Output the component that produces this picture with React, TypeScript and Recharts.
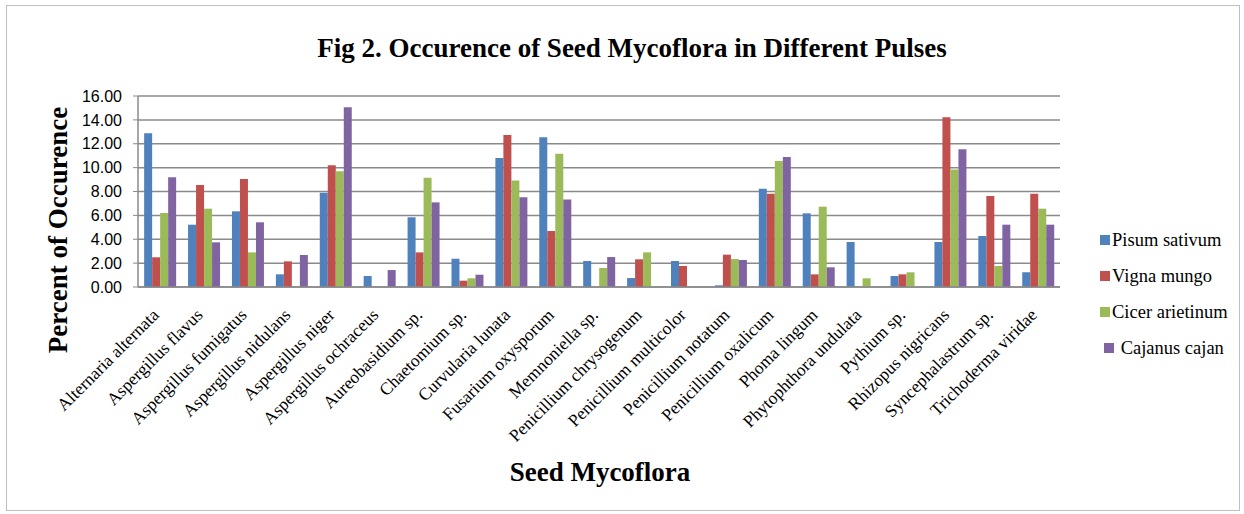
import React from "react";
import { Bar, BarChart, CartesianGrid, XAxis, YAxis } from "recharts";

const categories = [
  "Alternaria alternata",
  "Aspergillus flavus",
  "Aspergillus fumigatus",
  "Aspergillus nidulans",
  "Aspergillus niger",
  "Aspergillus ochraceus",
  "Aureobasidium sp.",
  "Chaetomium sp.",
  "Curvularia lunata",
  "Fusarium oxysporum",
  "Memnoniella sp.",
  "Penicillium chrysogenum",
  "Penicillium multicolor",
  "Penicillium notatum",
  "Penicillium oxalicum",
  "Phoma lingum",
  "Phytophthora undulata",
  "Pythium sp.",
  "Rhizopus nigricans",
  "Syncephalastrum sp.",
  "Trichoderma viridae",
];

const pisumSativum = [12.87, 5.22, 6.34, 1.06, 7.9, 0.92, 5.84, 2.37, 10.8, 12.54, 2.18, 0.75, 2.18, 0.14, 8.23, 6.17, 3.77, 0.92, 3.77, 4.27, 1.23];
const vignaMungo = [2.49, 8.54, 9.05, 2.15, 10.19, 0, 2.9, 0.53, 12.73, 4.69, 0, 2.32, 1.76, 2.71, 7.82, 1.06, 0, 1.06, 14.21, 7.62, 7.82];
const cicerArietinum = [6.2, 6.56, 2.9, 0, 9.69, 0, 9.16, 0.73, 8.93, 11.17, 1.59, 2.9, 0, 2.34, 10.55, 6.73, 0.73, 1.23, 9.85, 1.76, 6.56];
const cajanusCajan = [9.19, 3.74, 5.42, 2.68, 15.05, 1.42, 7.09, 1.03, 7.51, 7.34, 2.51, 0, 0, 2.26, 10.89, 1.65, 0, 0, 11.53, 5.22, 5.22];

const yTicks = [0, 2, 4, 6, 8, 10, 12, 14, 16];

const series = [
  { key: "pisum", name: "Pisum sativum", color: "#4F81BD", values: pisumSativum },
  { key: "vigna", name: "Vigna mungo", color: "#C0504D", values: vignaMungo },
  { key: "cicer", name: "Cicer arietinum", color: "#9BBB59", values: cicerArietinum },
  { key: "cajanus", name: " Cajanus cajan", color: "#8064A2", values: cajanusCajan },
];

const data = categories.map((name, i) => {
  const row: Record<string, string | number> = { name };
  series.forEach((s) => {
    row[s.key] = s.values[i];
  });
  return row;
});

const serif = "Liberation Serif, Times New Roman, serif";
const sans = "Liberation Sans, Arial, sans-serif";

// rotated category labels, Excel style
function CategoryTick({ x, y, payload }: any) {
  return (
    <g transform={`translate(${x},${y + 29})`}>
      <text textAnchor="end" transform="rotate(-45)" fontFamily={serif} fontSize={17.5} fill="#000">
        {payload.value}
      </text>
    </g>
  );
}

export default function App() {
  return (
    <div style={{ position: "absolute", left: 0, top: 0, width: 1244, height: 514, background: "#fff" }}>
      <div
        style={{
          position: "absolute",
          left: 6,
          top: 5,
          width: 1232,
          height: 504,
          border: "1px solid #bfbfbf",
        }}
      />
      <div
        style={{
          position: "absolute",
          left: 0,
          top: 33,
          width: 1264,
          textAlign: "center",
          fontFamily: serif,
          fontWeight: "bold",
          fontSize: 27,
          lineHeight: "30px",
          whiteSpace: "nowrap",
        }}
      >
        Fig 2. Occurence of Seed Mycoflora in Different Pulses
      </div>

      <BarChart
        width={1244}
        height={514}
        data={data}
        margin={{ top: 96, right: 184, bottom: 77, left: 78 }}
        barCategoryGap="14%"
        barGap={0}
        style={{ position: "absolute", left: 0, top: 0 }}
      >
        <CartesianGrid vertical={false} stroke="#8a8a8a" strokeWidth={1.5} />
        <XAxis
          dataKey="name"
          height={150}
          interval={0}
          tick={<CategoryTick />}
          tickSize={0}
          tickMargin={0}
          tickLine={false}
          axisLine={{ stroke: "#8a8a8a", strokeWidth: 1.5 }}
        />
        <YAxis
          width={60}
          domain={[0, 16]}
          ticks={yTicks}
          tickFormatter={(v: number) => v.toFixed(2)}
          tickSize={5}
          tickMargin={11}
          tick={{ fontFamily: sans, fontSize: 16, fill: "#000" }}
          tickLine={{ stroke: "#8a8a8a" }}
          axisLine={{ stroke: "#8a8a8a", strokeWidth: 1.5 }}
        />
        {series.map((s) => (
          <Bar key={s.key} dataKey={s.key} name={s.name} fill={s.color} isAnimationActive={false} />
        ))}
      </BarChart>

      <div
        style={{
          position: "absolute",
          left: 58,
          top: 230,
          transform: "translate(-50%, -50%) rotate(-90deg)",
          whiteSpace: "nowrap",
          fontFamily: serif,
          fontWeight: "bold",
          fontSize: 27,
        }}
      >
        Percent of Occurence
      </div>

      <div
        style={{
          position: "absolute",
          left: 600,
          top: 472,
          transform: "translate(-50%, -50%)",
          whiteSpace: "nowrap",
          fontFamily: serif,
          fontWeight: "bold",
          fontSize: 27,
        }}
      >
        Seed Mycoflora
      </div>

      {series.map((s, i) => (
        <div
          key={s.key}
          style={{
            position: "absolute",
            left: 1100,
            top: 228 + i * 36,
            height: 24,
            display: "flex",
            alignItems: "center",
            fontFamily: serif,
            fontSize: 18.5,
            whiteSpace: "pre",
          }}
        >
          <span
            style={{
              width: 10,
              height: 10,
              background: s.color,
              marginRight: 2,
              marginLeft: i === 3 ? 4 : 0,
              display: "inline-block",
            }}
          />
          {s.name}
        </div>
      ))}
    </div>
  );
}
